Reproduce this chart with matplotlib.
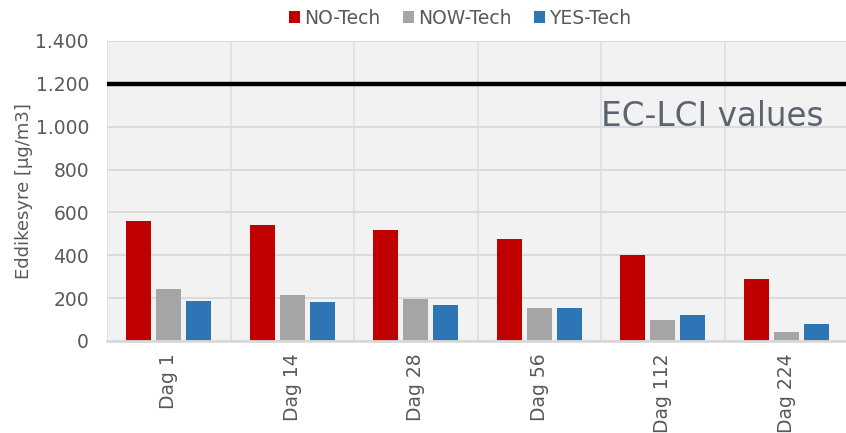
import numpy as np
import matplotlib.pyplot as plt
from matplotlib.ticker import FuncFormatter

# data
dager = ['Dag 1', 'Dag 14', 'Dag 28', 'Dag 56', 'Dag 112', 'Dag 224']
no_tech = [561, 541, 518, 476, 401, 288]
now_tech = [241, 216, 194, 156, 98, 40]
yes_tech = [188, 180, 170, 152, 121, 78]
ec_lci = 1200

serier = ['NO-Tech', 'NOW-Tech', 'YES-Tech']
farger = ['#C00000', '#A5A5A5', '#2E75B6']
tekst = '#595959'

plt.rcParams['font.family'] = 'DejaVu Sans'

fig = plt.figure(figsize=(8.46, 4.33), dpi=100)
# plot area runs a bit past the right edge, like in the original
ax = fig.add_axes([107 / 846, 1 - 341 / 433, 741 / 846, 300 / 433])
ax.set_facecolor('#F2F2F2')

x = np.arange(len(dager))
b = 0.2
steg = 0.243
for i, (navn, verdier, farge) in enumerate(zip(serier, [no_tech, now_tech, yes_tech], farger)):
    ax.bar(x + (i - 1) * steg, verdier, width=b, color=farge, label=navn, zorder=3)

ax.axhline(ec_lci, color='black', lw=3.2, zorder=4)
ax.text(5.30, 1003, 'EC-LCI values', fontsize=23.5, color='#5A6470', ha='right', va='baseline', zorder=5)

ax.set_xlim(-0.5, len(dager) - 0.5)
ax.set_ylim(0, 1400)
ax.set_yticks(np.arange(0, 1401, 200))
ax.yaxis.set_major_formatter(FuncFormatter(lambda v, p: f'{int(v):,}'.replace(',', '.')))
ax.set_xticks(x)
ax.set_xticklabels(dager, rotation=90)
ax.set_xticks(np.arange(-0.5, len(dager), 1), minor=True)

ax.grid(axis='y', color='#D9D9D9', lw=1.3, zorder=1)
ax.grid(axis='x', which='minor', color='#E0E0E0', lw=1.3, zorder=1)
ax.grid(axis='x', which='major', visible=False)
ax.tick_params(axis='both', which='both', length=0, labelsize=13.5, colors=tekst)
ax.tick_params(axis='y', pad=13)
ax.tick_params(axis='x', pad=9)
for s in ['top', 'right', 'left']:
    ax.spines[s].set_visible(False)
ax.spines['bottom'].set_color('#D9D9D9')
ax.spines['bottom'].set_linewidth(2)
ax.spines['bottom'].set_zorder(4)

ax.set_ylabel('Eddikesyre [µg/m3]', fontsize=13, color=tekst, labelpad=1.5)

fig.legend(loc='center', bbox_to_anchor=(460 / 846, 1 - 18 / 433), ncol=3, frameon=False,
           fontsize=13.5, labelcolor=tekst, handlelength=0.6, handleheight=0.6,
           handletextpad=0.2, columnspacing=1.2, borderpad=0)

fig.savefig('out.png', dpi=100)
